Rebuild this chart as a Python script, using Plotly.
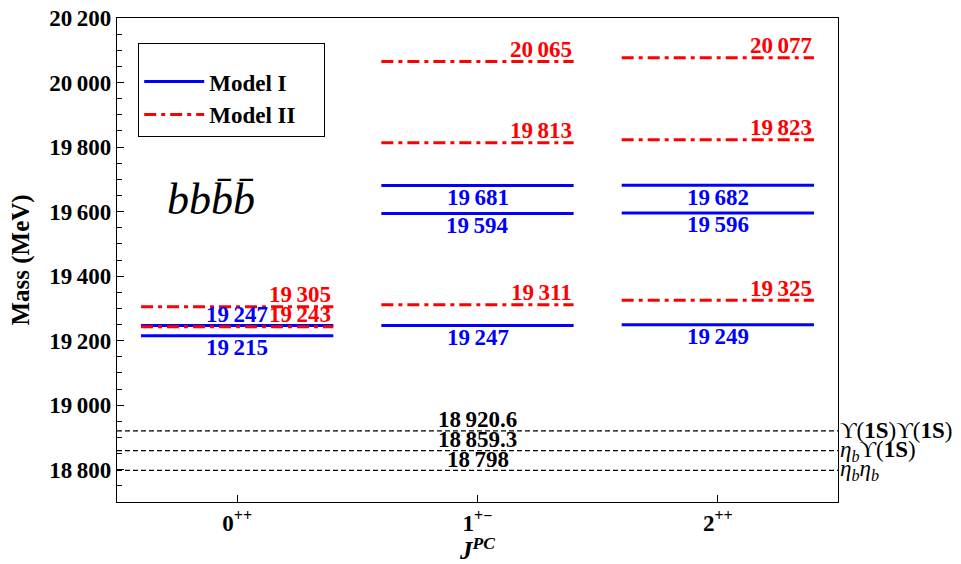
import plotly.graph_objects as go

# Quantum-number channels and level masses (MeV) for the bb b̄b̄ tetraquark
channels = ["0<sup>++</sup>", "1<sup>+−</sup>", "2<sup>++</sup>"]
model1 = [[19215, 19247], [19247, 19594, 19681], [19249, 19596, 19682]]
model2 = [[19243, 19305], [19311, 19813, 20065], [19325, 19823, 20077]]

# Two-meson thresholds (MeV)
threshold_names = ["ϒ(<b>1S</b>)ϒ(<b>1S</b>)",
                   "<i>η<sub>b</sub></i>ϒ(<b>1S</b>)",
                   "<i>η<sub>b</sub>η<sub>b</sub></i>"]
threshold_values = [18920.6, 18859.3, 18798]

y_ticks = [18800, 19000, 19200, 19400, 19600, 19800, 20000, 20200]

FONT = "Liberation Serif, Times New Roman, serif"
BLUE = "#0000ff"
RED = "#ff0000"
HALF = 0.4


def fmt(v):
    s = f"{v:,}"
    return s.replace(",", "\u2009")


fig = go.Figure()
annotations = []

for i, levels in enumerate(model1):
    for k, v in enumerate(levels):
        fig.add_trace(go.Scatter(
            x=[i - HALF, i + HALF], y=[v, v], mode="lines",
            line=dict(color=BLUE, width=3),
            name="<b>Model I</b>", legendgroup="m1",
            showlegend=(i == 0 and k == 0), hoverinfo="skip"))
        above = (i == 0 and v == 19247)
        annotations.append(dict(
            x=i, y=v, xref="x", yref="y", text=f"<b>{fmt(v)}</b>",
            showarrow=False, xanchor="center", yanchor="middle",
            yshift=11 if above else -12,
            font=dict(family=FONT, size=23, color=BLUE)))

for i, levels in enumerate(model2):
    for k, v in enumerate(levels):
        fig.add_trace(go.Scatter(
            x=[i - HALF, i + HALF], y=[v, v], mode="lines",
            line=dict(color=RED, width=3, dash="12px,5px,4px,5px"),
            name="<b>Model II</b>\u00a0\u00a0\u00a0\u00a0", legendgroup="m2",
            showlegend=(i == 0 and k == 0), hoverinfo="skip"))
        annotations.append(dict(
            x=i + HALF, y=v, xref="x", yref="y", text=f"<b>{fmt(v)}</b>",
            showarrow=False, xanchor="right", yanchor="middle",
            yshift=12,
            font=dict(family=FONT, size=23, color=RED)))

for name, v in zip(threshold_names, threshold_values):
    fig.add_trace(go.Scatter(
        x=[-0.5, 2.5], y=[v, v], mode="lines",
        line=dict(color="black", width=1.3, dash="5px,3px"),
        showlegend=False, hoverinfo="skip"))
    annotations.append(dict(
        x=1, y=v, xref="x", yref="y", text=f"<b>{fmt(v)}</b>",
        showarrow=False, xanchor="center", yanchor="middle", yshift=11,
        font=dict(family=FONT, size=23, color="black")))
    annotations.append(dict(
        x=1.0, y=v, xref="paper", yref="y", text=name,
        showarrow=False, xanchor="left", yanchor="middle", xshift=0,
        font=dict(family=FONT, size=23, color="black")))

annotations.append(dict(
    x=0.13, y=0.624, xref="paper", yref="paper",
    text="<i>bbb\u0304b\u0304</i>", showarrow=False,
    xanchor="center", yanchor="middle",
    font=dict(family=FONT, size=44, color="black")))

fig.update_layout(
    width=961, height=564,
    margin=dict(l=117, r=123, t=18, b=62),
    paper_bgcolor="white", plot_bgcolor="white",
    font=dict(family=FONT, color="black"),
    annotations=annotations,
    showlegend=True,
    legend=dict(
        x=0.029, y=0.948, xanchor="left", yanchor="top",
        bgcolor="white", bordercolor="black", borderwidth=1.3,
        font=dict(family=FONT, size=23, color="black"),
        title=dict(text="\u00a0", font=dict(size=12)),
        itemwidth=60, tracegroupgap=0,
    ),
)

fig.update_xaxes(
    range=[-0.5, 2.5], tickvals=[0, 1, 2], automargin=False,
    ticktext=[f"<b>{c}</b>" for c in channels],
    tickfont=dict(family=FONT, size=23, color="black"),
    ticks="inside", ticklen=7, tickcolor="black", tickwidth=1.2,
    showline=True, linecolor="black", linewidth=1.3, mirror=True,
    showgrid=False, zeroline=False,
    title=dict(text="<b><i>J</i><sup><i>PC</i></sup></b>",
               font=dict(family=FONT, size=25, color="black"), standoff=17),
)

fig.update_yaxes(
    range=[18700, 20200], tickvals=y_ticks, automargin=False,
    ticktext=[f"<b>{fmt(v)}</b>" for v in y_ticks],
    tickfont=dict(family=FONT, size=23, color="black"),
    ticks="inside", ticklen=7, tickcolor="black", tickwidth=1.2,
    minor=dict(dtick=50, ticks="inside", ticklen=5, tickcolor="black", tickwidth=1),
    showline=True, linecolor="black", linewidth=1.3, mirror=True,
    showgrid=False, zeroline=False,
    title=dict(text="<b>Mass (MeV)</b>",
               font=dict(family=FONT, size=25, color="black"), standoff=12),
)

fig.write_html("out.html")
